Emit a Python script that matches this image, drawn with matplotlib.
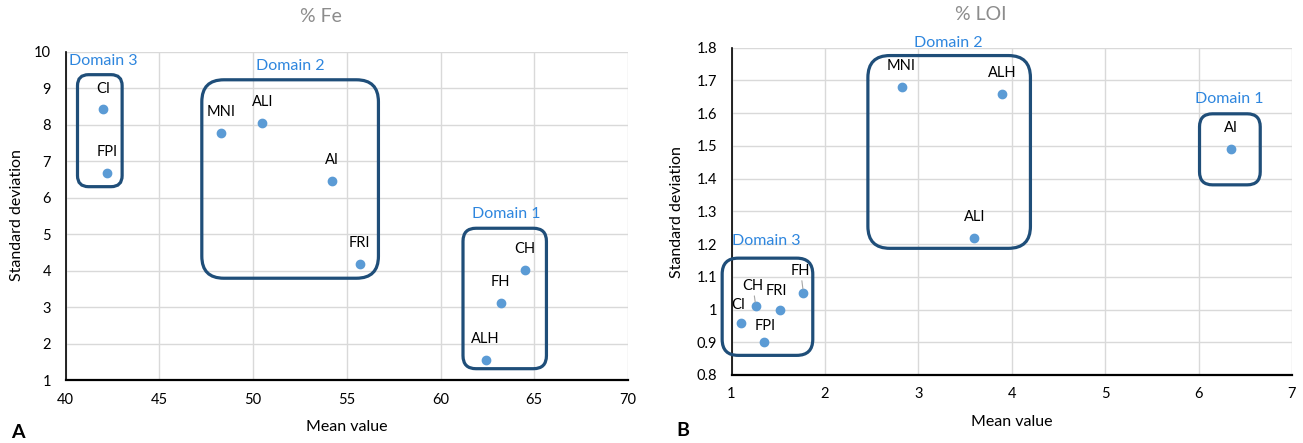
import numpy as np
import matplotlib
matplotlib.use("Agg")
from matplotlib import pyplot as plt
from matplotlib.patches import FancyBboxPatch

plt.rcParams["font.family"] = ["Lato", "DejaVu Sans"]

# %% data
fe_names = ["CI", "FPI", "MNI", "ALI", "AI", "FRI", "CH", "FH", "ALH"]
fe_mean = [42.0, 42.2, 48.3, 50.5, 54.2, 55.7, 64.5, 63.2, 62.4]
fe_std = [8.42, 6.67, 7.78, 8.05, 6.46, 4.19, 4.02, 3.11, 1.54]

loi_names = ["MNI", "ALH", "ALI", "AI", "CI", "CH", "FRI", "FH", "FPI"]
loi_mean = [2.82, 3.90, 3.60, 6.35, 1.10, 1.26, 1.52, 1.77, 1.35]
loi_std = [1.68, 1.66, 1.22, 1.49, 0.96, 1.01, 1.00, 1.05, 0.90]

fe_xticks = [40, 45, 50, 55, 60, 65, 70]
fe_yticks = [1, 2, 3, 4, 5, 6, 7, 8, 9, 10]
loi_xticks = [1, 2, 3, 4, 5, 6, 7]
loi_yticks = [0.8, 0.9, 1.0, 1.1, 1.2, 1.3, 1.4, 1.5, 1.6, 1.7, 1.8]
loi_ylabels = ["0.8", "0.9", "1", "1.1", "1.2", "1.3", "1.4", "1.5", "1.6", "1.7", "1.8"]

# domain boxes: label, x0, x1, y0, y1, corner radius (px), label x, label y
fe_domains = [
    ("Domain 3", 40.64, 43.02, 6.30, 9.37, 11, 42.0, 9.75),
    ("Domain 2", 47.27, 56.69, 3.79, 9.23, 22, 52.0, 9.62),
    ("Domain 1", 61.20, 65.65, 1.31, 5.16, 13, 63.5, 5.55),
]
loi_domains = [
    ("Domain 2", 2.46, 4.20, 1.187, 1.776, 22, 3.32, 1.814),
    ("Domain 1", 6.01, 6.66, 1.381, 1.598, 13, 6.33, 1.643),
    ("Domain 3", 0.90, 1.87, 0.860, 1.157, 16, 1.37, 1.21),
]

W, H = 1303, 443
dot = "#5b9bd5"
box = "#1f4e79"
dom = "#2e86de"

fig = plt.figure(figsize=(W / 100, H / 100), dpi=100)


def panel(rect, xs, ys, names, xlim, ylim, xticks, yticks, ylabels, domains, offsets, leaders):
    l, t, r, b = rect
    ax = fig.add_axes([l / W, 1 - b / H, (r - l) / W, (b - t) / H])
    ax.set_xlim(xlim)
    ax.set_ylim(ylim)
    ax.set_xticks(xticks)
    ax.set_yticks(yticks)
    ax.set_yticklabels(ylabels)
    ax.grid(color="#d9d9d9", lw=1)
    ax.set_axisbelow(True)
    for s in ["top", "right"]:
        ax.spines[s].set_visible(False)
    ax.spines["left"].set_linewidth(1.2)
    ax.spines["bottom"].set_linewidth(1.6)
    ax.tick_params(length=0, labelsize=10.5, colors="#000000")
    ax.tick_params(axis="y", pad=10.5)
    ax.tick_params(axis="x", pad=9)
    ax.scatter(xs, ys, s=36, color=dot, zorder=3, clip_on=False)
    for n, x, y in zip(names, xs, ys):
        dx, dy = offsets.get(n, (0, 15))
        kw = {}
        if n in leaders:
            kw["arrowprops"] = dict(arrowstyle="-", color="#a6a6a6", lw=0.8,
                                    shrinkA=0, shrinkB=3)
        ax.annotate(n, (x, y), xytext=(dx, dy), textcoords="offset points",
                    ha="center", va="center", fontsize=10.5, **kw)
    xpp = (xlim[1] - xlim[0]) / (r - l)
    ypp = (ylim[1] - ylim[0]) / (b - t)
    for name, x0, x1, y0, y1, rad, lx, ly in domains:
        p = FancyBboxPatch((x0, y0), x1 - x0, y1 - y0,
                           boxstyle="round,pad=0,rounding_size=%f" % (rad * xpp),
                           mutation_aspect=ypp / xpp, fc="none", ec=box, lw=2.3,
                           clip_on=False, zorder=4)
        ax.add_patch(p)
        ax.text(lx, ly, name, color=dom, fontsize=11.5, ha="center", va="center")
    return ax


panel((65.5, 51.7, 628, 380), fe_mean, fe_std, fe_names, (40, 70), (1, 10),
      fe_xticks, fe_yticks, [str(v) for v in fe_yticks], fe_domains, {}, [])
panel((731.5, 47.7, 1292, 375), loi_mean, loi_std, loi_names, (1, 7), (0.8, 1.8),
      loi_xticks, loi_yticks, loi_ylabels, loi_domains,
      {"CI": (-2, 13), "CH": (-2, 14.5), "FRI": (-2.5, 13), "FH": (-2, 16),
       "FPI": (1, 11.5)}, ["CH", "FH"])

fig.text(321 / W, 1 - 17 / H, "% Fe", color="#8c8c8c", fontsize=14, ha="center", va="center")
fig.text(981 / W, 1 - 14 / H, "% LOI", color="#8c8c8c", fontsize=14, ha="center", va="center")
fig.text(347 / W, 1 - 427 / H, "Mean value", fontsize=11.5, ha="center", va="center")
fig.text(1012 / W, 1 - 422 / H, "Mean value", fontsize=11.5, ha="center", va="center")
fig.text(17 / W, 1 - 215 / H, "Standard deviation", fontsize=11.5, ha="center",
         va="center", rotation=90)
fig.text(677 / W, 1 - 212 / H, "Standard deviation", fontsize=11.5, ha="center",
         va="center", rotation=90)
fig.text(18 / W, 1 - 433 / H, "A", fontsize=14, fontweight="bold", ha="center", va="center")
fig.text(683 / W, 1 - 430 / H, "B", fontsize=14, fontweight="bold", ha="center", va="center")

fig.savefig("out.png", dpi=100)
